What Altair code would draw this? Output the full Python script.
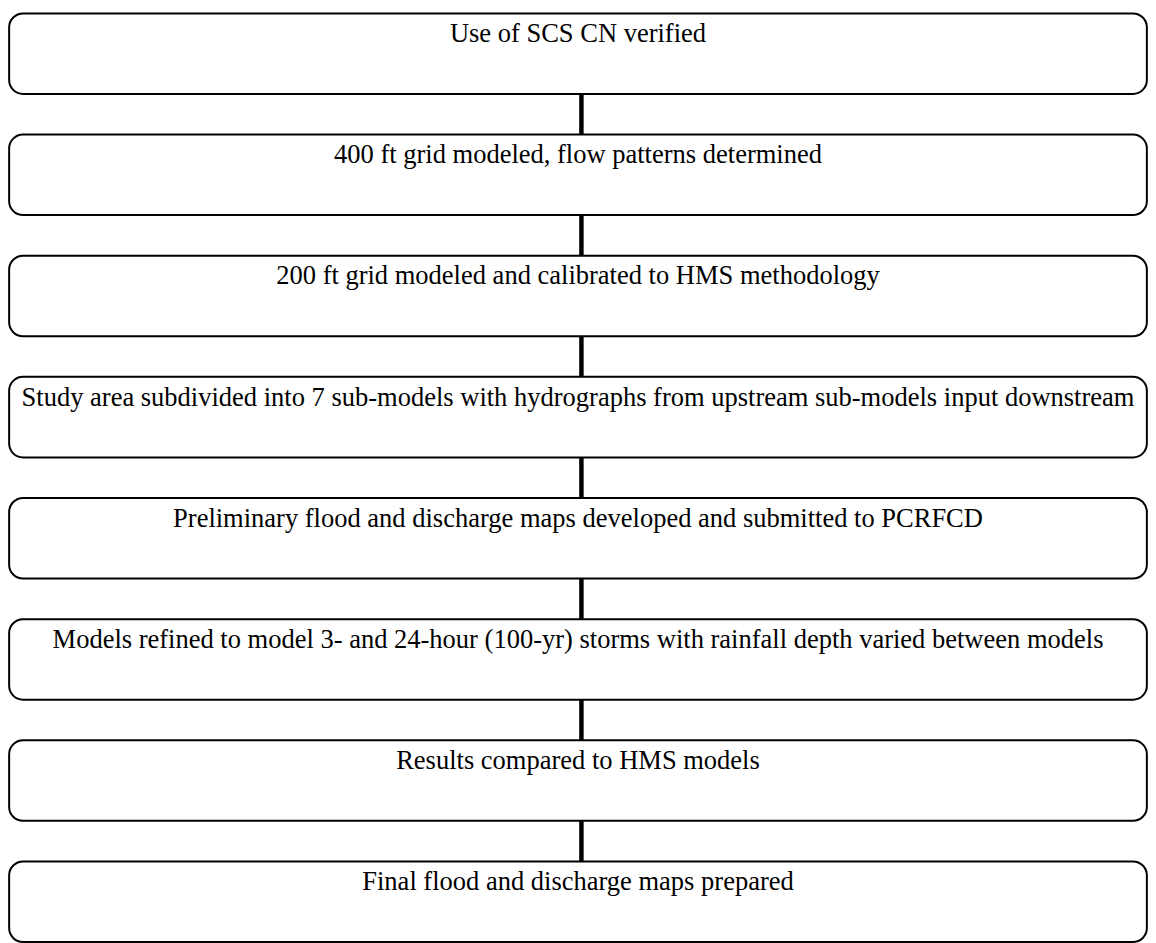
import altair as alt
import pandas as pd

steps = [
    "Use of SCS CN verified",
    "400 ft grid modeled, flow patterns determined",
    "200 ft grid modeled and calibrated to HMS methodology",
    "Study area subdivided into 7 sub-models with hydrographs from upstream sub-models input downstream",
    "Preliminary flood and discharge maps developed and submitted to PCRFCD",
    "Models refined to model 3- and 24-hour (100-yr) storms with rainfall depth varied between models",
    "Results compared to HMS models",
    "Final flood and discharge maps prepared",
]
order = list(range(len(steps)))
box_frac = 0.665  # box height as fraction of step pitch

boxes = pd.DataFrame({
    "step": steps,
    "top": order,
    "bottom": [i + box_frac for i in order],
    "left": [0.1] * len(steps),
    "right": [99.9] * len(steps),
    "mid": [50.0] * len(steps),
})
links = pd.DataFrame({
    "from": [i + box_frac for i in order[:-1]],
    "to": [i + 1 for i in order[:-1]],
    "xpos": [50.3] * (len(steps) - 1),
})

xs = alt.Scale(domain=[0, 100])
ys = alt.Scale(domain=[0, 8], reverse=True)

rects = alt.Chart(boxes).mark_rect(
    cornerRadius=14, fill="white", stroke="black", strokeWidth=2
).encode(
    x=alt.X("left:Q", scale=xs, axis=None),
    x2="right:Q",
    y=alt.Y("top:Q", scale=ys, axis=None),
    y2="bottom:Q",
)

rules = alt.Chart(links).mark_rule(color="black", strokeWidth=4.5).encode(
    x=alt.X("xpos:Q", scale=xs, axis=None),
    y=alt.Y("from:Q", scale=ys, axis=None),
    y2="to:Q",
)

texts = alt.Chart(boxes).mark_text(
    font="Liberation Serif", fontSize=26.7, color="black",
    align="center", baseline="alphabetic", dy=29
).encode(
    x=alt.X("mid:Q", scale=xs, axis=None),
    y=alt.Y("top:Q", scale=ys, axis=None),
    text="step:N",
)

chart = alt.layer(rects, rules, texts).properties(
    width=1148, height=976,
    padding={"left": 0, "top": 2, "right": 0, "bottom": 0},
    autosize=alt.AutoSizeParams(type="none"),
).configure_view(stroke=None)

chart.save("out.html", embed_options={"renderer": "svg", "actions": False})
